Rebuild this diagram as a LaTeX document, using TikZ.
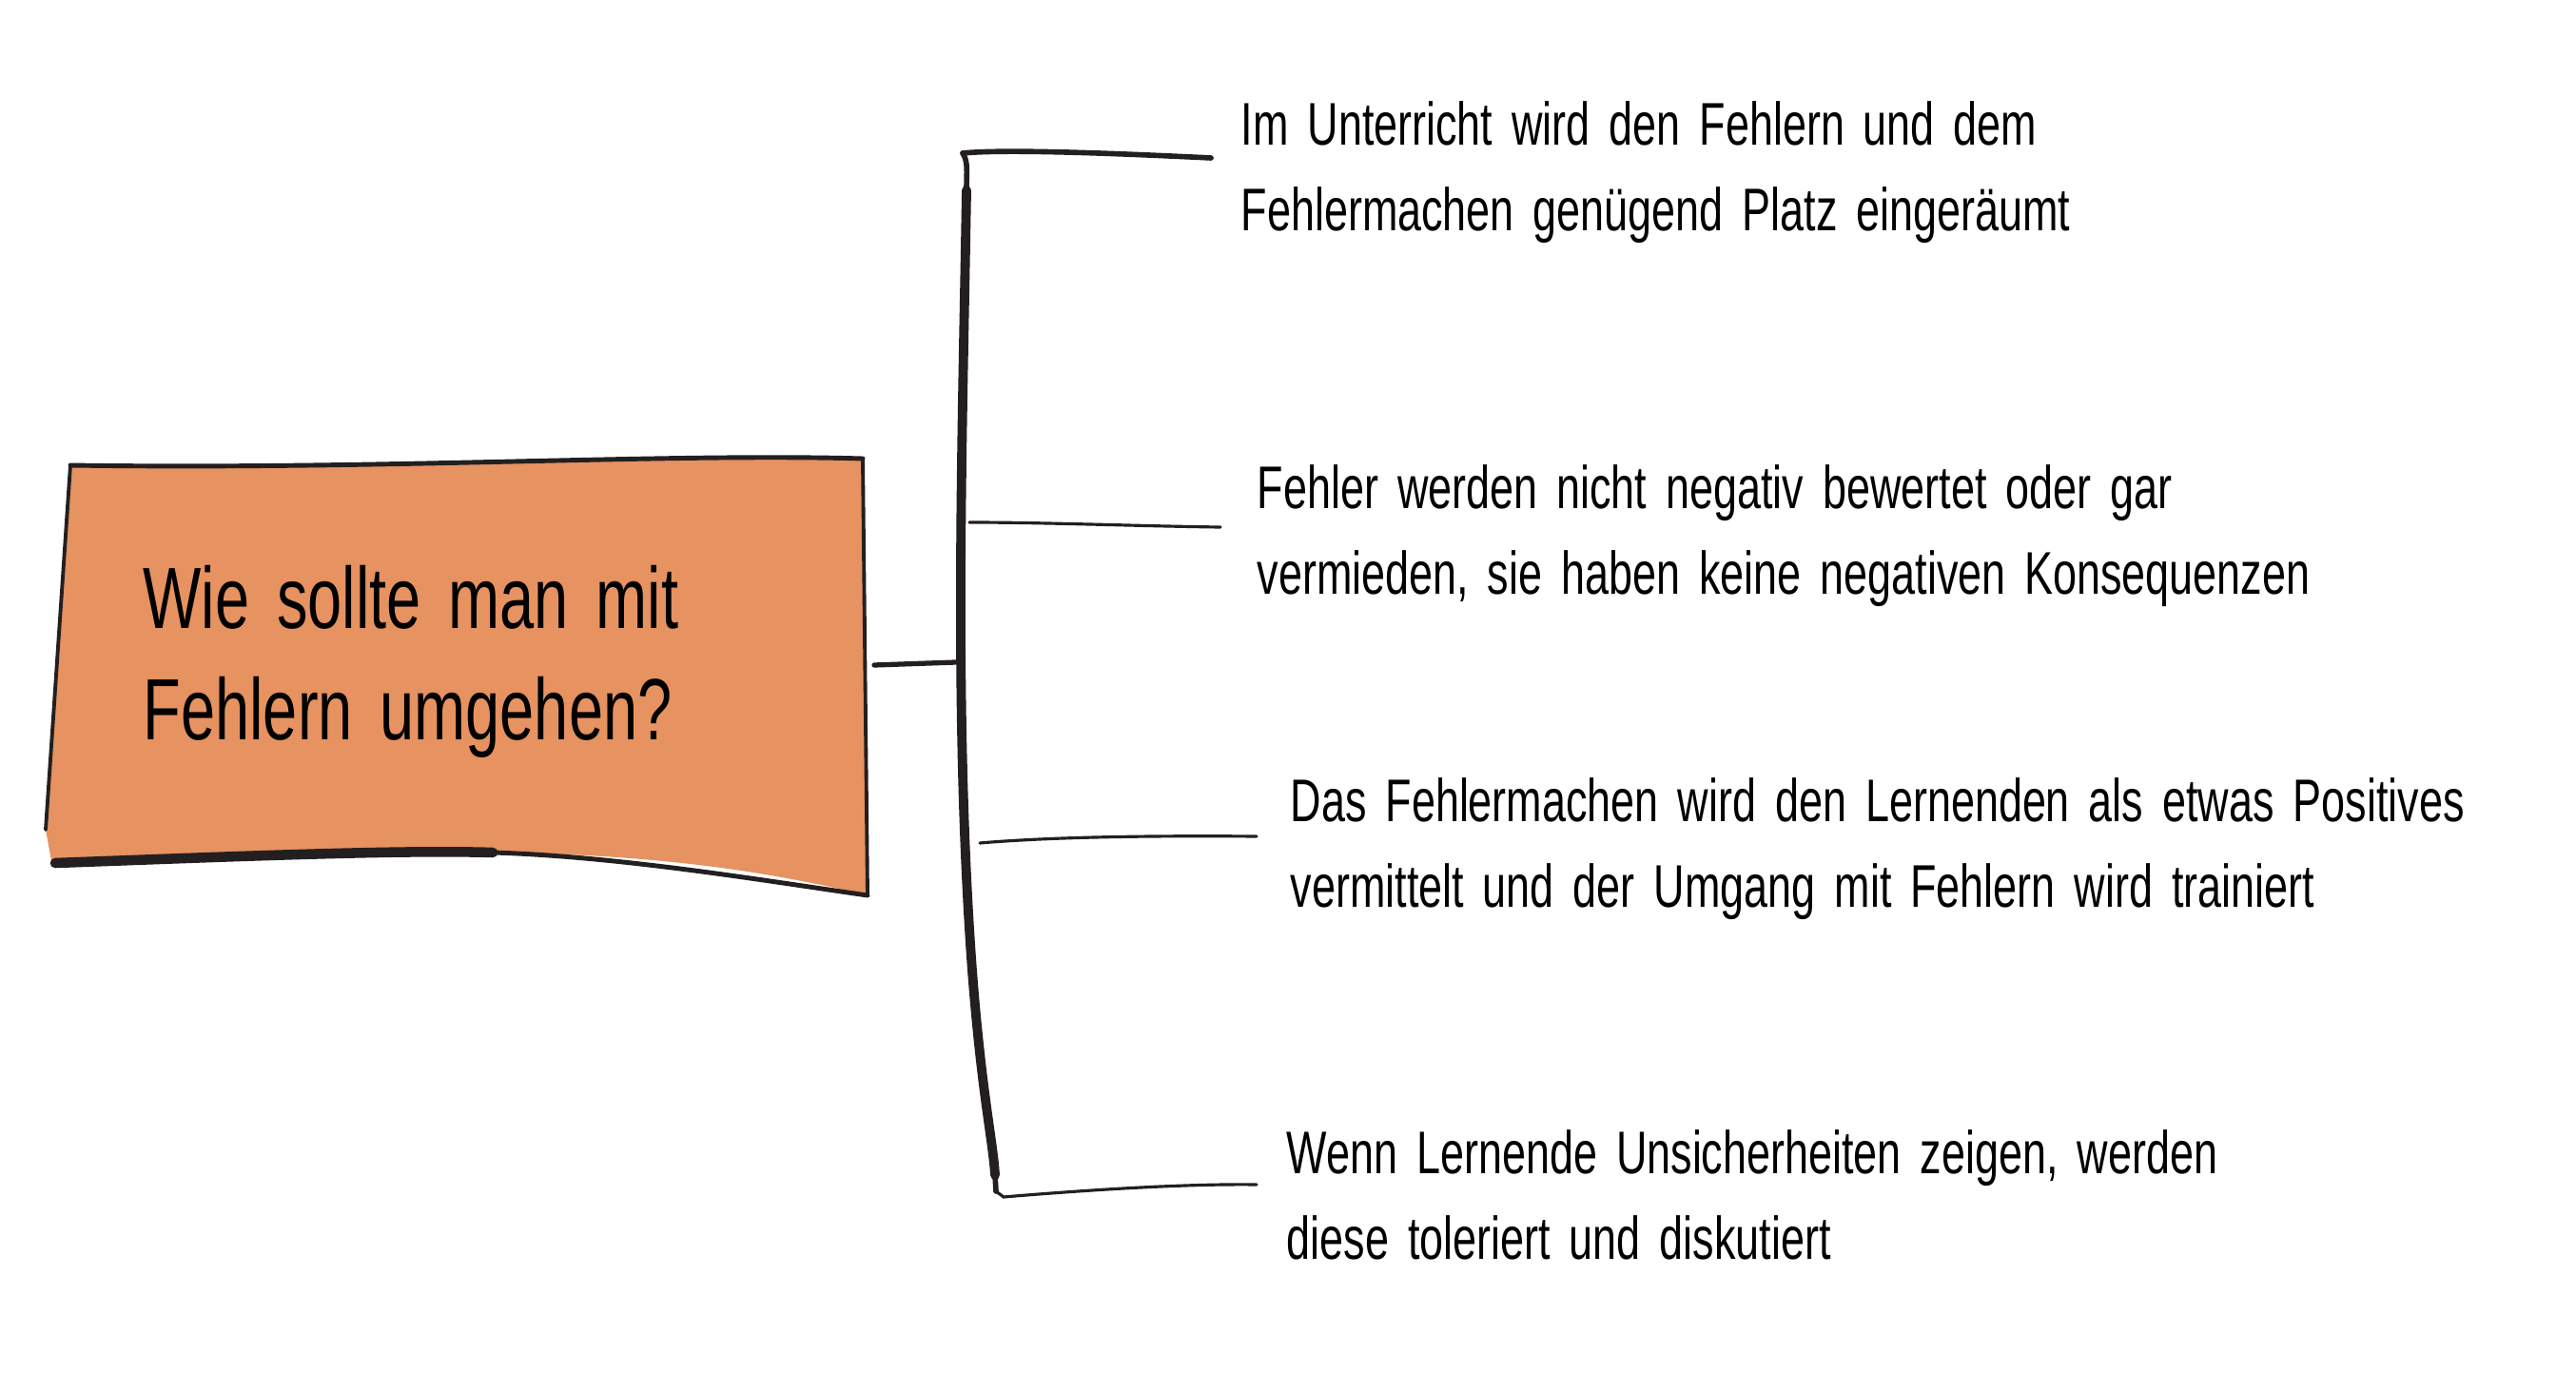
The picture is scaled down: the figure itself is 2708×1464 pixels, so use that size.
\documentclass[tikz,border=0pt]{standalone}
\usepackage{fontspec}
\usepackage{xcolor}
\newfontfamily\handfont[FakeStretch=0.71,WordSpace=1.6]{Liberation Sans}
\usetikzlibrary{positioning}
\definecolor{boxfill}{RGB}{230,146,97}
\definecolor{ink}{RGB}{35,31,32}

\tikzset{
  spine/.style={draw=ink, line width=2.8pt, line cap=round, line join=round},
  branch/.style={draw=ink, line width=0.9pt, line cap=round},
  rim/.style={draw=ink, line width=1.4pt, line cap=round},
  point/.style={anchor=north west, align=left, inner sep=0pt,
    font=\handfont\fontsize{18}{25.6}\selectfont},
  title/.style={anchor=north west, align=left, inner sep=0pt,
    font=\handfont\fontsize{26}{33}\selectfont}
}

\begin{document}
\begin{tikzpicture}[x=0.01cm,y=-0.01cm]
  \useasboundingbox (0,0) rectangle (2708,1464);

  % question box
  \fill[boxfill] (74,489) .. controls (400,494) and (700,476) .. (907,482)
    -- (912,941) .. controls (700,890) and (500,885) .. (55,910)
    -- (48,872) -- cycle;
  \draw[rim] (74,489) .. controls (400,494) and (700,476) .. (907,482);
  \draw[rim, line width=1.1pt] (74,489) -- (48,872);
  \draw[rim, line width=1.1pt] (907,482) -- (912,941);
  \draw[rim, line width=3pt] (58,907) .. controls (250,900) and (420,893) .. (518,896);
  \draw[rim, line width=1.4pt] (518,896) .. controls (650,900) and (800,925) .. (912,941);
  \node[title] (q) at (150,594) {Wie sollte man mit\\Fehlern umgehen?};

  % bracket
  \coordinate (boxR) at (919,699);
  \coordinate (hub) at (1005,696);
  \coordinate (top) at (1012,161);
  \coordinate (b1) at (1273,166);
  \coordinate (s2) at (1019,549);
  \coordinate (b2) at (1283,554);
  \coordinate (s3) at (1030,886);
  \coordinate (b3) at (1321,879);
  \coordinate (s4) at (1055,1258);
  \coordinate (b4) at (1321,1245);

  \draw[branch, line width=1.5pt] (boxR) -- (hub);
  \draw[spine, line width=1.6pt] (b1) .. controls (1150,160) and (1050,157) .. (top);
  \draw[spine, line width=1.6pt] (top) .. controls (1018,170) and (1016,180) .. (1016,200);
  \draw[spine] (1016,200)
    .. controls (1012,450) and (1002,750) .. (1022,1020)
    .. controls (1032,1150) and (1044,1200) .. (1046,1235);
  \draw[spine, line width=1.6pt] (1046,1235) -- (1047,1252);
  \draw[branch] (s2) .. controls (1100,549) and (1200,553) .. (b2);
  \draw[branch] (s3) .. controls (1100,880) and (1200,878) .. (b3);
  \draw[branch] (1047,1252) -- (s4) .. controls (1150,1250) and (1250,1244) .. (b4);

  % points
  \node[point] (p1) at (1304,106) {Im Unterricht wird den Fehlern und dem\\Fehlermachen genügend Platz eingeräumt};
  \node[point] (p2) at (1321,488) {Fehler werden nicht negativ bewertet oder gar\\vermieden, sie haben keine negativen Konsequenzen};
  \node[point] (p3) at (1356,817) {Das Fehlermachen wird den Lernenden als etwas Positives\\vermittelt und der Umgang mit Fehlern wird trainiert};
  \node[point] (p4) at (1352,1187) {Wenn Lernende Unsicherheiten zeigen, werden\\diese toleriert und diskutiert};
\end{tikzpicture}
\end{document}
